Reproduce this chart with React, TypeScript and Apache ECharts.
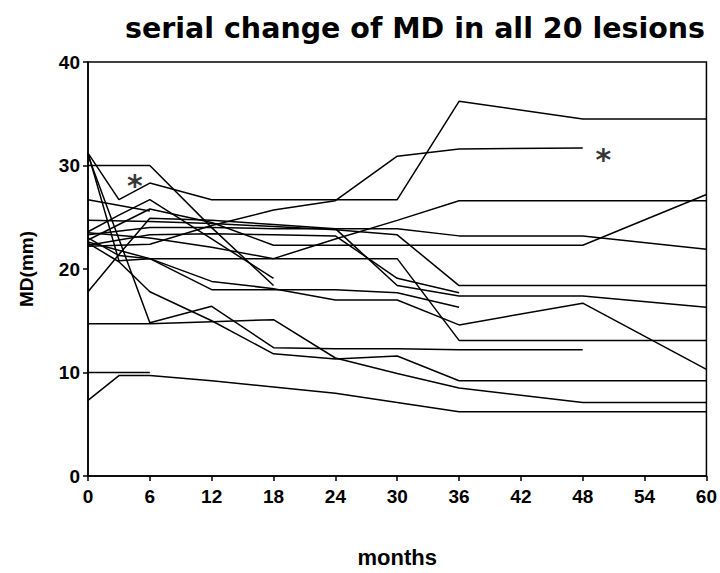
import { useEffect, useRef } from "react";
import * as echarts from "echarts";

// Each lesion: [month, MD (mm)]
const lesionA = [[0, 31.2], [3, 26.7], [6, 28.3], [12, 26.7], [18, 26.7], [24, 26.7], [30, 26.7], [36, 36.2], [48, 34.5], [60, 34.5]];
const lesionB = [[0, 22.2], [6, 22.4], [12, 24.2], [18, 25.7], [24, 26.6], [30, 30.9], [36, 31.6], [48, 31.7]];
const lesionC = [[0, 30.0], [6, 30.0], [12, 24.0], [18, 18.4]];
const lesionS = [[0, 26.7], [6, 25.6]];
const lesionD = [[0, 22.8], [6, 25.8], [12, 24.5], [18, 22.3], [24, 22.3], [30, 22.3], [36, 22.3], [48, 22.3], [60, 27.2]];
const lesionE = [[0, 23.5], [6, 23.0], [12, 22.1], [18, 21.0], [24, 22.9], [30, 24.7], [36, 26.6], [48, 26.6], [60, 26.6]];
const lesionF = [[0, 17.8], [3, 21.4], [6, 24.9], [12, 24.7], [18, 24.3], [24, 23.9], [30, 23.9], [36, 23.2], [48, 23.2], [60, 21.9]];
const lesionG = [[0, 24.7], [6, 24.6], [12, 24.4], [18, 24.1], [24, 23.8], [30, 23.3], [36, 18.4], [48, 18.4], [60, 18.4]];
const lesionH = [[0, 23.3], [6, 24.0], [12, 24.0], [18, 23.9], [24, 23.9], [30, 18.4], [36, 17.4], [48, 17.4], [60, 16.3]];
const lesionR = [[0, 22.3], [6, 23.3], [12, 23.4], [18, 23.3], [24, 23.2], [30, 19.1], [36, 17.7]];
const lesionI = [[0, 31.2], [3, 20.8], [6, 21.0], [12, 21.0], [18, 21.0], [24, 21.0], [30, 21.0], [36, 13.1], [48, 13.1], [60, 13.1]];
const lesionJ = [[0, 23.0], [3, 21.3], [6, 21.0], [12, 18.8], [18, 18.1], [24, 17.0], [30, 17.0], [36, 14.6], [48, 16.7], [60, 10.3]];
const lesionQ = [[0, 22.6], [6, 21.0], [12, 18.0], [18, 18.0], [24, 18.0], [30, 17.7], [36, 16.3]];
const lesionK = [[0, 22.5], [3, 20.7], [6, 17.8], [12, 15.0], [18, 11.8], [24, 11.3], [30, 11.6], [36, 9.2], [48, 9.2], [60, 9.2]];
const lesionN = [[0, 31.0], [6, 14.8], [12, 16.4], [18, 12.4], [24, 12.3], [30, 12.3], [36, 12.2], [48, 12.2]];
const lesionL = [[0, 14.7], [6, 14.7], [12, 14.9], [18, 15.1], [24, 11.4], [30, 9.9], [36, 8.5], [48, 7.1], [60, 7.1]];
const lesionM = [[0, 7.3], [3, 9.7], [6, 9.7], [12, 9.2], [18, 8.6], [24, 8.0], [30, 7.1], [36, 6.2], [48, 6.2], [60, 6.2]];
const lesionT = [[0, 10.0], [6, 10.0]];
const lesionU = [[0, 23.6], [3, 25.2], [6, 26.7], [12, 22.9], [18, 19.1]];

const lesions = [
  lesionA, lesionB, lesionC, lesionS, lesionD, lesionE, lesionF, lesionG, lesionH, lesionR,
  lesionI, lesionJ, lesionQ, lesionK, lesionN, lesionL, lesionM, lesionT, lesionU,
];

// asterisk annotations [month, MD]
const asteriskMarks = [[4.55, 28.9], [50.0, 31.4]];

const titleText = "serial change of MD in all 20 lesions";

export default function App() {
  const ref = useRef<HTMLDivElement>(null);
  useEffect(() => {
    document.body.style.margin = "0";
    const chart = echarts.init(ref.current!, null, { renderer: "svg" });
    const lineSeries = lesions.map((d, i) => ({
      name: "lesion" + (i + 1),
      type: "line",
      data: d,
      showSymbol: false,
      symbol: "none",
      lineStyle: { color: "#000", width: 1.5 },
      silent: true,
    }));
    chart.setOption({
      animation: false,
      backgroundColor: "#fff",
      title: {
        text: titleText,
        left: 410,
        top: 9,
        textAlign: "center",
        textStyle: {
          fontFamily: "'DejaVu Sans', sans-serif",
          fontWeight: "bold",
          fontSize: 28.5,
          color: "#000",
        },
      },
      grid: {
        left: 88,
        right: 13,
        top: 62,
        bottom: 96,
        show: true,
        borderColor: "#000",
        borderWidth: 1.5,
        containLabel: false,
      },
      xAxis: {
        type: "value",
        min: 0,
        max: 60,
        interval: 6,
        name: "months",
        nameLocation: "middle",
        nameGap: 70,
        nameTextStyle: {
          fontFamily: "'Liberation Sans', Arial, sans-serif",
          fontWeight: "bold",
          fontSize: 22,
          color: "#000",
        },
        axisLine: { lineStyle: { color: "#000", width: 1.5 } },
        axisTick: { show: true, length: 5, lineStyle: { color: "#000", width: 1.5 } },
        splitLine: { show: false },
        axisLabel: {
          margin: 11,
          color: "#000",
          fontFamily: "'Liberation Sans Narrow', 'Liberation Sans', Arial, sans-serif",
          fontWeight: "bold",
          fontSize: 19,
        },
      },
      yAxis: {
        type: "value",
        min: 0,
        max: 40,
        interval: 10,
        name: "MD(mm)",
        nameLocation: "middle",
        nameRotate: 90,
        nameGap: 52,
        nameTextStyle: {
          fontFamily: "'Liberation Sans', Arial, sans-serif",
          fontWeight: "bold",
          fontSize: 19,
          color: "#000",
        },
        axisLine: { show: true, lineStyle: { color: "#000", width: 1.5 } },
        axisTick: { show: true, length: 5, lineStyle: { color: "#000", width: 1.5 } },
        splitLine: { show: false },
        axisLabel: {
          margin: 8,
          color: "#000",
          fontFamily: "'Liberation Sans', Arial, sans-serif",
          fontWeight: "bold",
          fontSize: 19,
        },
      },
      series: [
        ...lineSeries,
        {
          name: "asterisk",
          type: "scatter",
          data: asteriskMarks,
          symbolSize: 1,
          itemStyle: { color: "rgba(0,0,0,0)" },
          silent: true,
          label: {
            show: true,
            position: "bottom",
            distance: 0,
            formatter: "*",
            offset: [0, -7],
            color: "#000",
            textBorderWidth: 0,
            fontFamily: "'DejaVu Sans', sans-serif",
            fontWeight: "bold",
            fontSize: 30,
          },
        },
      ],
    });
    return () => chart.dispose();
  }, []);
  return <div ref={ref} style={{ width: 720, height: 573 }} />;
}
